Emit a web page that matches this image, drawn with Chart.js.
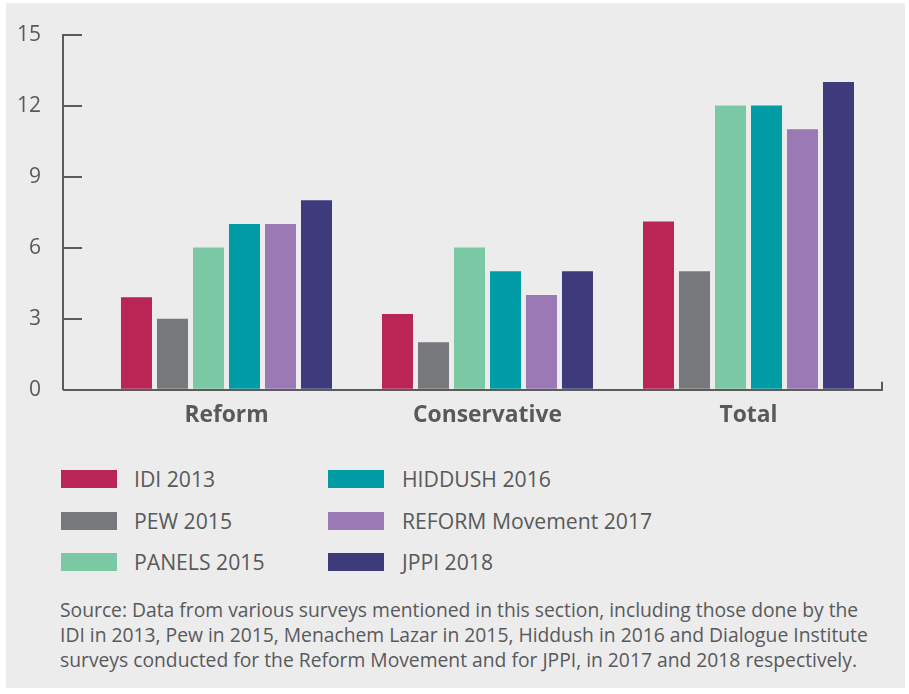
<!DOCTYPE html>
<html><head><meta charset="utf-8">
<script src="https://cdn.jsdelivr.net/npm/chart.js@4.4.1/dist/chart.umd.min.js"></script>
<style>
html,body{margin:0;padding:0;background:#fff;width:909px;height:694px;overflow:hidden;}
#frame{position:absolute;left:6px;top:3px;width:899px;height:685px;background:#ececec;}
#wrap{position:absolute;left:0;top:0;width:909px;height:444px;}
.sw{position:absolute;width:56px;height:18px;}
.lt{position:absolute;font-family:'Open Sans',sans-serif;font-size:21.2px;line-height:18px;color:#58595b;white-space:nowrap;}
#src{position:absolute;left:60px;top:597px;font-family:'Open Sans',sans-serif;font-size:19.3px;line-height:25px;color:#58595b;white-space:nowrap;}
</style></head>
<body>
<div id="frame"></div>
<div id="wrap"><canvas id="c" width="909" height="444"></canvas></div>
<div id="legend"></div>
<div id="src">Source: Data from various surveys mentioned in this section, including those done by the<br>IDI in 2013, Pew in 2015, Menachem Lazar in 2015, Hiddush in 2016 and Dialogue Institute<br>surveys conducted for the Reform Movement and for JPPI, in 2017 and 2018 respectively.</div>
<script>
const categories = ['Reform', 'Conservative', 'Total'];
const seriesNames = ['IDI 2013', 'PEW 2015', 'PANELS 2015', 'HIDDUSH 2016', 'REFORM Movement 2017', 'JPPI 2018'];
const idi2013 = [3.9, 3.2, 7.1];
const pew2015 = [3, 2, 5];
const panels2015 = [6, 6, 12];
const hiddush2016 = [7, 5, 12];
const reformMovement2017 = [7, 4, 11];
const jppi2018 = [8, 5, 13];
const yTickValues = [0, 3, 6, 9, 12, 15];
const seriesColors = ['#b92555', '#77787b', '#7ac8a4', '#009ca6', '#9b79b5', '#3f3a7c'];

const seriesValues = [idi2013, pew2015, panels2015, hiddush2016, reformMovement2017, jppi2018];
const axisColor = '#5b5b5b';
const textColor = '#58595b';
const fontFamily = "'Open Sans', sans-serif";
const xMin = -0.5536, xMax = 2.5115;

const datasets = seriesNames.map((name, s) => ({
  label: name,
  data: seriesValues[s].map((v, i) => ({ x: i, y: v })),
  backgroundColor: seriesColors[s],
  borderWidth: 0,
  categoryPercentage: 0.8276,
  barPercentage: 0.861
}));

const setYTicks = (scale) => { scale.ticks = yTickValues.map(v => ({ value: v })); };

const chart = new Chart(document.getElementById('c'), {
  type: 'bar',
  data: { datasets },
  options: {
    responsive: false,
    animation: false,
    layout: { padding: { left: 0, right: 27, top: 31, bottom: 3 } },
    plugins: { legend: { display: false }, tooltip: { enabled: false } },
    scales: {
      x: {
        type: 'linear',
        position: 'bottom',
        weight: 0,
        offset: false,
        min: xMin,
        max: xMax,
        afterBuildTicks: (scale) => { scale.ticks = categories.map((_, i) => ({ value: i })); },
        ticks: {
          callback: (value, index) => categories[index],
          font: { family: fontFamily, size: 22.8, weight: 'bold' },
          color: textColor,
          padding: 12,
          maxRotation: 0,
          autoSkip: false
        },
        grid: { display: false, drawTicks: false, tickLength: 0, offset: false },
        border: { display: true, color: axisColor, width: 2 }
      },
      xEnd: {
        type: 'linear',
        axis: 'x',
        position: 'bottom',
        weight: -1,
        offset: false,
        min: xMin,
        max: xMax,
        afterBuildTicks: (scale) => { scale.ticks = [{ value: xMax }]; },
        afterFit: (scale) => { scale.height = 0; },
        ticks: { display: false },
        grid: { display: true, offset: false, drawOnChartArea: false, drawTicks: true, tickLength: -8, color: axisColor, lineWidth: 2 },
        border: { display: false }
      },
      y: {
        type: 'linear',
        position: 'left',
        weight: 0,
        min: 0,
        max: 15,
        afterBuildTicks: setYTicks,
        afterFit: (scale) => { scale.width = 19; },
        ticks: { display: false },
        grid: { display: true, drawOnChartArea: false, drawTicks: true, tickLength: 19, color: axisColor, lineWidth: 2 },
        border: { display: false }
      },
      y2: {
        type: 'linear',
        axis: 'y',
        position: 'left',
        weight: 10,
        min: 0,
        max: 15,
        afterBuildTicks: setYTicks,
        afterFit: (scale) => { scale.width = 63; },
        ticks: {
          font: { family: fontFamily, size: 21 },
          color: textColor,
          padding: 22
        },
        grid: { display: false, drawTicks: false, tickLength: 0 },
        border: { display: true, color: axisColor, width: 2 }
      }
    }
  }
});

// HTML legend built from the chart's datasets (two columns, three rows)
const legend = document.getElementById('legend');
const swLeft = [61, 328], txtLeft = [134, 402], rowTop = [470, 512, 553];
chart.data.datasets.forEach((ds, i) => {
  const col = Math.floor(i / 3), row = i % 3;
  const sw = document.createElement('div');
  sw.className = 'sw';
  sw.style.left = swLeft[col] + 'px';
  sw.style.top = rowTop[row] + 'px';
  sw.style.background = ds.backgroundColor;
  legend.appendChild(sw);
  const t = document.createElement('div');
  t.className = 'lt';
  t.style.left = txtLeft[col] + 'px';
  t.style.top = rowTop[row] + 'px';
  t.textContent = ds.label;
  legend.appendChild(t);
});
</script>
</body></html>
